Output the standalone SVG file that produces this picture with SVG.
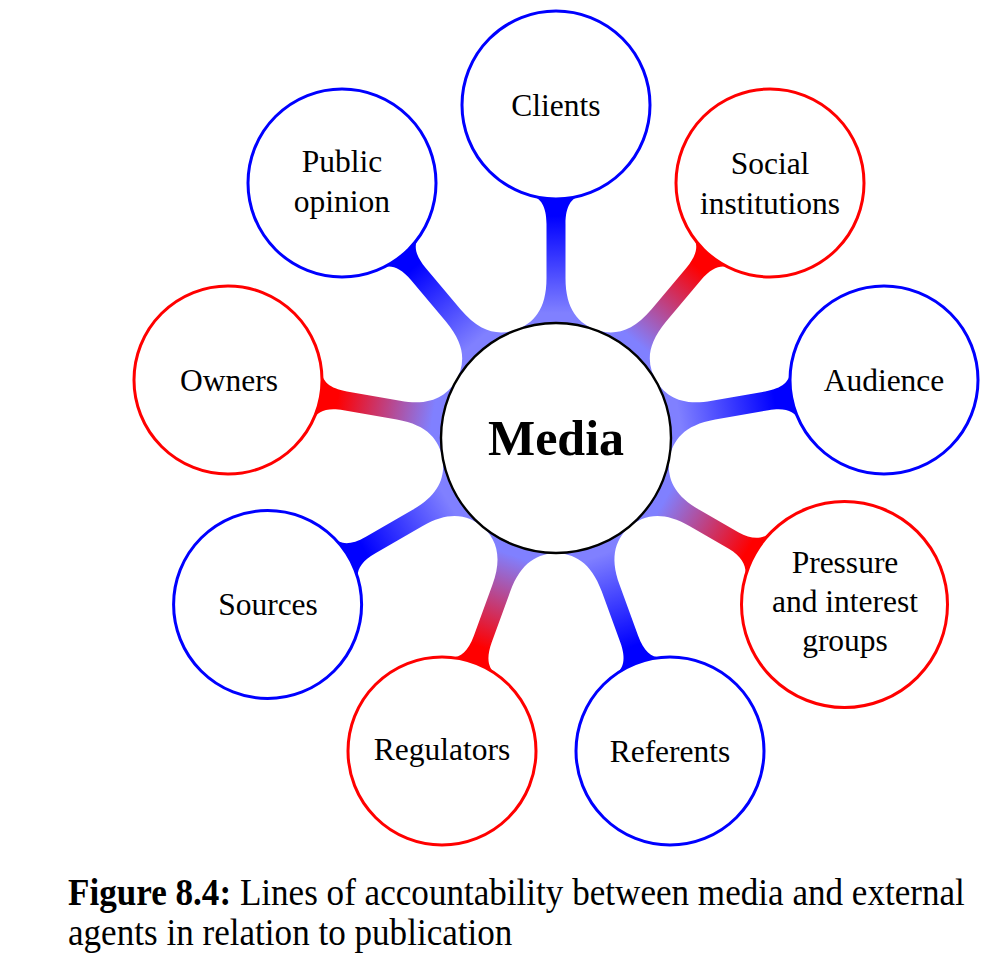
<svg xmlns="http://www.w3.org/2000/svg" xmlns:xlink="http://www.w3.org/1999/xlink" width="1008" height="960" viewBox="0 0 1008 960">
<style>
.nb{fill:#ffffff;stroke:#0000ff;stroke-width:3}
.nr{fill:#ffffff;stroke:#ff0000;stroke-width:3}
.lbl{font-family:"Liberation Serif","Times New Roman",serif;font-size:31.5px;text-anchor:middle;fill:#000000}
.cap{font-family:"Liberation Serif","Times New Roman",serif;font-size:39px;fill:#000000}
</style>
<defs>
<linearGradient id="gB" gradientUnits="userSpaceOnUse" x1="125" y1="0" x2="222" y2="0">
<stop offset="0" stop-color="#8080ff"/><stop offset="1" stop-color="#0000ff"/>
</linearGradient>
<linearGradient id="gR" gradientUnits="userSpaceOnUse" x1="125" y1="0" x2="222" y2="0">
<stop offset="0" stop-color="#8080ff"/><stop offset="1" stop-color="#ff0000"/>
</linearGradient>
<path id="bar" d="M107.4,-41.2 C114.6,-22.5 128,-9.5 160,-9.5 L214,-9.5 C232,-9.5 239.9,-15.6 242.2,-24.3 L242.2,24.3 C239.9,15.6 232,9.5 214,9.5 L160,9.5 C128,9.5 114.6,22.5 107.4,41.2 Z"/>
<path id="barP" d="M107.4,-41.2 C114.6,-22.5 128,-9.5 160,-9.5 L205,-9.5 C223,-9.5 231.2,-18 233.5,-26.7 L233.5,26.7 C231.2,18 223,9.5 205,9.5 L160,9.5 C128,9.5 114.6,22.5 107.4,41.2 Z"/>
</defs>
<rect x="0" y="0" width="1008" height="960" fill="#ffffff"/>
<g id="connectors">
<use xlink:href="#bar" transform="translate(556 438) rotate(-90)" fill="url(#gB)"/>
<use xlink:href="#bar" transform="translate(556 438) rotate(-50)" fill="url(#gR)"/>
<use xlink:href="#bar" transform="translate(556 438) rotate(-10)" fill="url(#gB)"/>
<use xlink:href="#barP" transform="translate(556 438) rotate(30)" fill="url(#gR)"/>
<use xlink:href="#bar" transform="translate(556 438) rotate(70)" fill="url(#gB)"/>
<use xlink:href="#bar" transform="translate(556 438) rotate(110)" fill="url(#gR)"/>
<use xlink:href="#bar" transform="translate(556 438) rotate(150)" fill="url(#gB)"/>
<use xlink:href="#bar" transform="translate(556 438) rotate(190)" fill="url(#gR)"/>
<use xlink:href="#bar" transform="translate(556 438) rotate(230)" fill="url(#gB)"/>
</g>
<g id="media">
<circle cx="556" cy="438" r="115" fill="#ffffff" stroke="#000000" stroke-width="2.4"/>
<text x="556" y="455" style="font-family:'Liberation Serif','Times New Roman',serif;font-size:50px;font-weight:bold;text-anchor:middle">Media</text>
</g>
<g id="clients">
<circle class="nb" cx="556" cy="105" r="94"/>
<text class="lbl" x="556" y="116">Clients</text>
</g>
<g id="social-institutions">
<circle class="nr" cx="770" cy="183" r="94"/>
<text class="lbl" x="770" y="174">Social</text>
<text class="lbl" x="770" y="214">institutions</text>
</g>
<g id="audience">
<circle class="nb" cx="884" cy="380" r="94"/>
<text class="lbl" x="884" y="391">Audience</text>
</g>
<g id="pressure">
<circle class="nr" cx="844.5" cy="604.5" r="103"/>
<text class="lbl" x="845" y="573">Pressure</text>
<text class="lbl" x="845" y="612">and interest</text>
<text class="lbl" x="845" y="651">groups</text>
</g>
<g id="referents">
<circle class="nb" cx="670" cy="751" r="94"/>
<text class="lbl" x="670" y="762">Referents</text>
</g>
<g id="regulators">
<circle class="nr" cx="442" cy="751" r="94"/>
<text class="lbl" x="442" y="760">Regulators</text>
</g>
<g id="sources">
<circle class="nb" cx="267.6" cy="604.5" r="94"/>
<text class="lbl" x="268" y="615">Sources</text>
</g>
<g id="owners">
<circle class="nr" cx="228" cy="380" r="94"/>
<text class="lbl" x="229" y="391">Owners</text>
</g>
<g id="public-opinion">
<circle class="nb" cx="342" cy="183" r="94"/>
<text class="lbl" x="342" y="172">Public</text>
<text class="lbl" x="342" y="212">opinion</text>
</g>
<g id="caption">
<text class="cap" transform="translate(68 905) scale(0.9 1)" x="0" y="0"><tspan font-weight="bold">Figure 8.4:</tspan> Lines of accountability between media and external</text>
<text class="cap" transform="translate(68 945) scale(0.9 1)" x="0" y="0">agents in relation to publication</text>
</g>
</svg>
